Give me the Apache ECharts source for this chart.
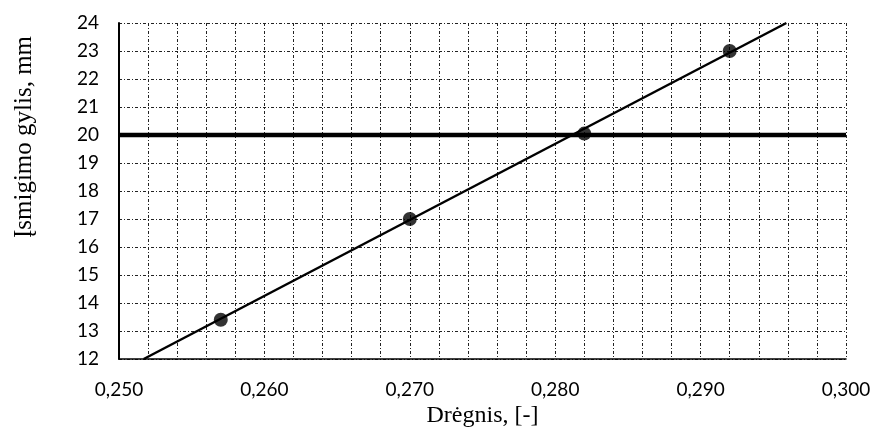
<!DOCTYPE html>
<html>
<head>
<meta charset="utf-8">
<script src="https://cdn.jsdelivr.net/npm/echarts@6/dist/echarts.min.js"></script>
<style>
  html, body { margin: 0; padding: 0; background: #fff; }
  #chart { width: 874px; height: 443px; }
</style>
</head>
<body>
<div id="chart"></div>
<script>
// measured points (moisture, penetration depth)
const pointsX = [0.257, 0.270, 0.282, 0.292];
const pointsY = [13.4, 17.0, 20.05, 23.0];
// trend line endpoints
const trendX = [0.2517, 0.2959];
const trendY = [12, 24];
// limit level
const limitX = [0.250, 0.300];
const limitY = [20, 20];

const zip = (xs, ys) => xs.map((x, i) => [x, ys[i]]);

const myChart = echarts.init(document.getElementById('chart'));
const gridStyle = { color: '#222', width: 1, type: [3, 2, 1, 2] };

const option = {
  backgroundColor: '#fff',
  animation: false,
  grid: { left: 119, right: 28, top: 23, bottom: 84 },
  // y title sits above the plot centre in the original, so it is placed by hand
  graphic: [
    {
      type: 'text',
      x: 24,
      y: 137,
      rotation: Math.PI / 2,
      style: {
        text: 'Įsmigimo gylis, mm',
        fontFamily: 'Liberation Serif',
        fontSize: 25,
        fill: '#000',
        align: 'center',
        verticalAlign: 'middle'
      }
    }
  ],
  xAxis: {
    type: 'value',
    min: 0.25,
    max: 0.30,
    interval: 0.01,
    name: 'Drėgnis, [-]',
    nameLocation: 'middle',
    nameGap: 40,
    nameTextStyle: { fontFamily: 'Liberation Serif', fontSize: 24, color: '#000' },
    axisLine: { show: true, lineStyle: { color: '#000', width: 1.5 } },
    axisTick: { show: false },
    axisLabel: {
      margin: 21,
      fontFamily: 'Lato',
      fontSize: 19,
      color: '#000',
      formatter: v => v.toFixed(3).replace('.', ',')
    },
    splitLine: { show: true, lineStyle: gridStyle },
    minorTick: { show: false, splitNumber: 5 },
    minorSplitLine: { show: true, lineStyle: gridStyle }
  },
  yAxis: {
    type: 'value',
    min: 12,
    max: 24,
    interval: 1,
    axisLine: { show: true, lineStyle: { color: '#000', width: 2 } },
    axisTick: { show: false },
    axisLabel: { margin: 20, fontFamily: 'Lato', fontSize: 19, color: '#000' },
    splitLine: { show: true, lineStyle: gridStyle }
  },
  series: [
    {
      name: 'limit',
      type: 'line',
      data: zip(limitX, limitY),
      symbol: 'none',
      lineStyle: { color: '#000', width: 4.5 },
      z: 3
    },
    {
      name: 'trend',
      type: 'line',
      data: zip(trendX, trendY),
      symbol: 'none',
      lineStyle: { color: '#000', width: 2.5 },
      z: 4
    },
    {
      name: 'points',
      type: 'scatter',
      data: zip(pointsX, pointsY),
      symbol: 'circle',
      symbolSize: 14,
      itemStyle: { color: '#000' },
      z: 5
    }
  ]
};
myChart.setOption(option);
</script>
</body>
</html>
